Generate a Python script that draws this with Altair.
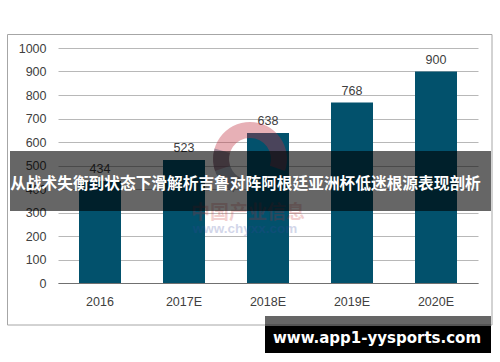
import math
import altair as alt
import pandas as pd

categories = ["2016", "2017E", "2018E", "2019E", "2020E"]
values = [434, 523, 638, 768, 900]
y_ticks = [0, 100, 200, 300, 400, 500, 600, 700, 800, 900, 1000]
banner_title = ["从战术失衡到状态下滑解析吉鲁对阵阿根廷亚洲杯低迷根源表现剖析"]
site_label = ["www.app1-yysports.com"]
watermark_cn = ["中国产业信息"]
watermark_url = ["www.chyxx.com"]

df = pd.DataFrame({"year": categories, "value": values})
one = pd.DataFrame({"k": [0]})

W, H = 420, 235
OX, OY = 58, 48  # plot origin in page pixels

def px(x):
    return x - OX

def py(y):
    return y - OY

frame = alt.Chart(one).mark_rect(fillOpacity=0, stroke="#a6a6a6", strokeWidth=1).encode(
    x=alt.value(px(7.5)), x2=alt.value(px(492)), y=alt.value(py(34.5)), y2=alt.value(py(325))
)

x_axis = alt.Axis(
    title=None, labelAngle=0, ticks=False, domainColor="#707070", domainWidth=1.2,
    labelFont="Liberation Sans", labelFontSize=12.5, labelColor="#404040",
    labelPadding=12, grid=False,
)
y_axis = alt.Axis(
    title=None, values=y_ticks, format="d", ticks=False, domain=False, labelOverlap=False,
    labelFont="Liberation Sans", labelFontSize=12.5, labelColor="#404040",
    labelPadding=12, gridColor="#b8b8b8", gridWidth=1,
)

base = alt.Chart(df).encode(
    x=alt.X("year:N", sort=categories,
            scale=alt.Scale(paddingInner=0.5, paddingOuter=0.25), axis=x_axis),
    y=alt.Y("value:Q", scale=alt.Scale(domain=[0, 1000], nice=False), axis=y_axis),
)
bars = base.mark_bar(color="#02516c")
labels = base.mark_text(
    font="Liberation Sans", fontSize=12.5, color="#404040", baseline="alphabetic", dy=-8
).encode(text="value:Q")

arc_pink = alt.Chart(one).mark_arc(
    innerRadius=21, outerRadius=37, theta=2 * math.pi - 1.9, theta2=2 * math.pi + 1.9,
    color="#c03040", opacity=0.38,
).encode(x=alt.value(px(250)), y=alt.value(py(159)))
arc_gray = alt.Chart(one).mark_arc(
    innerRadius=21, outerRadius=37, theta=3.6, theta2=5.0,
    color="#3a4a6a", opacity=0.4,
).encode(x=alt.value(px(250)), y=alt.value(py(159)))

wm_cn = alt.Chart(pd.DataFrame({"t": watermark_cn})).mark_text(
    font="Noto Sans CJK SC", fontSize=19, fontWeight="bold", color="#c82828", opacity=0.22,
    baseline="middle", align="center",
).encode(x=alt.value(px(248)), y=alt.value(py(213)), text="t:N")
wm_url = alt.Chart(pd.DataFrame({"t": watermark_url})).mark_text(
    font="Liberation Sans", fontSize=13.5, fontWeight="bold", color="#3848a0", opacity=0.22,
    baseline="middle", align="center",
).encode(x=alt.value(px(245)), y=alt.value(py(229)), text="t:N")

banner = alt.Chart(one).mark_rect(color="#000000", opacity=0.6).encode(
    x=alt.value(px(10)), x2=alt.value(px(491)), y=alt.value(py(151)), y2=alt.value(py(211))
)
banner_text = alt.Chart(pd.DataFrame({"t": banner_title})).mark_text(
    font="Noto Sans CJK SC", fontSize=15.7, fontWeight="bold", color="#ffffff",
    baseline="middle", align="center",
).encode(x=alt.value(px(245.5)), y=alt.value(py(184)), text="t:N")

box_top = alt.Chart(one).mark_rect(color="#000000", opacity=0.6).encode(
    x=alt.value(px(265)), x2=alt.value(px(491)), y=alt.value(py(316)), y2=alt.value(py(326))
)
box = alt.Chart(one).mark_rect(color="#000000").encode(
    x=alt.value(px(265)), x2=alt.value(px(491)), y=alt.value(py(326)), y2=alt.value(py(353))
)
box_text = alt.Chart(pd.DataFrame({"t": site_label})).mark_text(
    font="DejaVu Sans", fontSize=15, fontWeight="bold", color="#ffffff",
    baseline="alphabetic", align="center",
).encode(x=alt.value(px(377)), y=alt.value(py(342.5)), text="t:N")

chart = alt.layer(
    frame, bars, labels, arc_pink, arc_gray, wm_cn, wm_url,
    banner, banner_text, box_top, box, box_text,
).properties(
    width=W, height=H,
    autosize=alt.AutoSizeParams(type="none"),
    padding={"left": OX, "top": OY, "right": 500 - OX - W, "bottom": 362 - OY - H},
    background="#ffffff",
).configure_view(stroke=None)

chart.save("out.html", embed_options={"renderer": "svg", "actions": False})
